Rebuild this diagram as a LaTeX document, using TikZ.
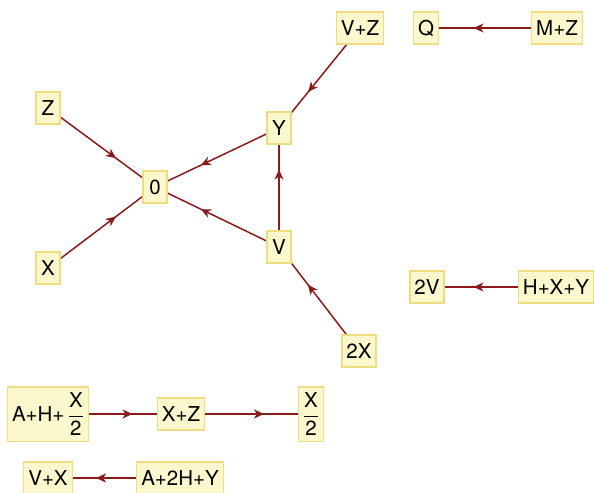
\documentclass[tikz,border=0pt]{standalone}
\usepackage{fontspec}
\setmainfont{TeX Gyre Heros}
\usetikzlibrary{positioning}
\usetikzlibrary{arrows.meta}
\usetikzlibrary{decorations.markings}
\usetikzlibrary{backgrounds}
\definecolor{boxfill}{HTML}{FAF8CC}
\definecolor{boxline}{HTML}{F0DC80}
\definecolor{flowred}{HTML}{8B1A1A}
\tikzset{
        var box/.style={draw=boxline, fill=boxfill, line width=1.2pt,
          inner xsep=4.5pt, inner ysep=4pt,
          minimum height=32pt, minimum width=24pt,
          font=\fontsize{20.5}{24}\selectfont},
        frac box/.style={var box, inner ysep=5.5pt},
        % edges run centre to centre behind the boxes
        flow/.style={draw=flowred, line width=1.5pt, postaction=decorate,
          decoration={markings, mark=at position 0.5 with {\arrow[xshift=18pt, flowred]{Stealth[length=10pt, width=9pt, inset=3pt]}}}},
}
\begin{document}
\begin{tikzpicture}[x=1pt, y=-1pt]
      \useasboundingbox (0,0) rectangle (595,493);
      % triangle round 0
      \node[var box] (vz) at (360,28) {V+Z};
      \node[var box] (z) at (48,108) {Z};
      \node[var box] (y) at (279,128) {Y};
      \node[var box] (zero) at (155,187) {0};
      \node[var box] (x) at (48,268) {X};
      \node[var box] (v) at (279,247) {V};
      \node[var box] (twox) at (359,351) {2X};
      % right pairs
      \node[var box] (q) at (426,28) {Q};
      \node[var box] (mz) at (557,28) {M+Z};
      \node[var box] (twov) at (427,287) {2V};
      \node[var box] (hxy) at (556,287) {H+X+Y};
      % bottom rows
      \node[frac box] (ahx) at (48,414) {A+H+\,$\displaystyle\frac{\mbox{X}}{\mbox{2}}$};
      \node[var box] (xz) at (181,414) {X+Z};
      \node[frac box] (xhalf) at (311,414) {$\displaystyle\frac{\mbox{X}}{\mbox{2}}$};
      \node[var box] (vx) at (48,478) {V+X};
      \node[var box] (a2hy) at (180,478) {A+2H+Y};

      % WIRING
      \begin{scope}[on background layer]
        \draw[flow] (vz.center) -- (y.center);
        \draw[flow] (z.center) -- (zero.center);
        \draw[flow] (x.center) -- (zero.center);
        \draw[flow] (y.center) -- (zero.center);
        \draw[flow] (v.center) -- (zero.center);
        \draw[flow] (v.center) -- (y.center);
        \draw[flow] (twox.center) -- (v.center);
        \draw[flow] (mz.center) -- (q.center);
        \draw[flow] (hxy.center) -- (twov.center);
        \draw[flow] (ahx.center) -- (xz.center);
        \draw[flow] (xz.center) -- (xhalf.center);
        \draw[flow] (a2hy.center) -- (vx.center);
      \end{scope}
\end{tikzpicture}
\end{document}
